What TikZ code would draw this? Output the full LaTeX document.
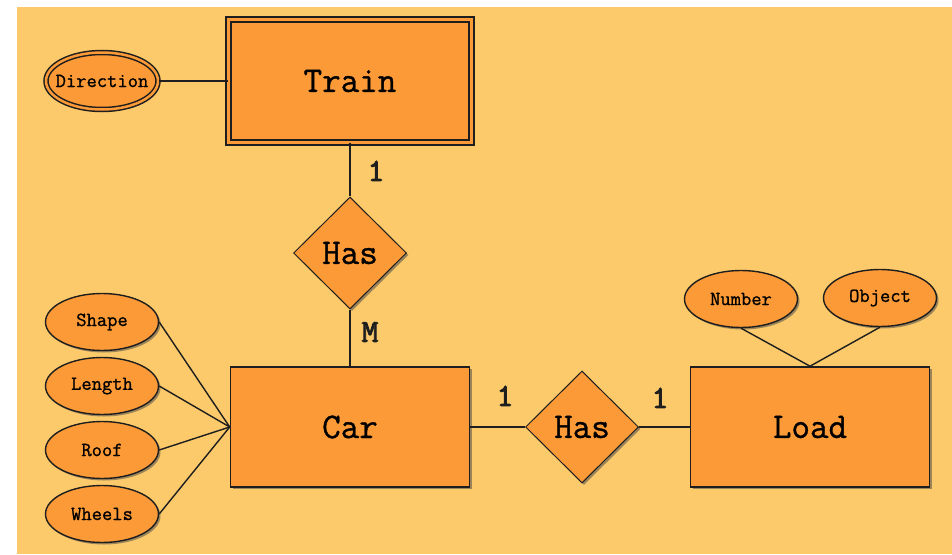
\documentclass[tikz,border=0pt]{standalone}
\usepackage{fontspec}
\newfontfamily\entityfont{Latin Modern Mono}[FakeBold=1]
\newfontfamily\cardfont{Latin Modern Mono}[FakeBold=3]
\usetikzlibrary{shapes.geometric, shadows}
\definecolor{paper}{HTML}{FCCA6B}
\definecolor{tangerine}{HTML}{FB9A36}
\definecolor{ink}{HTML}{1E1E1E}
\tikzset{
  shade/.style={drop shadow={shadow xshift=2pt, shadow yshift=-2pt, opacity=.55, fill=black!70}},
  entity/.style={rectangle, draw=ink, line width=1.6pt, fill=tangerine, shade,
    minimum width=239pt, minimum height=120pt, font=\entityfont\fontsize{36}{36}\selectfont},
  weakentity/.style={entity, line width=1.8pt, double=tangerine, double distance=3.5pt,
    minimum width=243pt, minimum height=123pt},
  relation/.style={diamond, draw=ink, line width=1pt, fill=tangerine, shade,
    minimum width=113pt, minimum height=112pt, inner sep=0pt, font=\entityfont\fontsize{36}{36}\selectfont},
  attrib/.style={ellipse, draw=ink, line width=1.4pt, fill=tangerine, shade,
    minimum width=113pt, minimum height=57pt, inner xsep=-12pt, inner ysep=0pt,
    font=\entityfont\fontsize{20}{20}\selectfont},
  multiattrib/.style={attrib, line width=1.5pt, double=tangerine, double distance=2.5pt,
    minimum width=112pt, minimum height=57pt},
  link/.style={draw=ink, line width=1.4pt},
  card/.style={font=\cardfont\fontsize{32}{32}\selectfont, text=ink},
}
\begin{document}
\begin{tikzpicture}[x=1pt, y=-1pt]
\useasboundingbox (0,0) rectangle (952,554);
\fill[paper] (17,7) rectangle (952,554);

\node[weakentity] (train) at (350,81) {Train};
\node[multiattrib] (direction) at (102,81) {Direction};
\node[relation] (has1) at (350,253) {Has};
\node[entity] (car) at (350,427) {Car};
\node[relation] (has2) at (582,427) {Has};
\node[entity] (load) at (810,427) {Load};

\node[attrib] (shape) at (102,322) {Shape};
\node[attrib] (length) at (102,386) {Length};
\node[attrib] (roof) at (102,450) {Roof};
\node[attrib] (wheels) at (102,514) {Wheels};
\node[attrib] (number) at (741,299) {Number};
\node[attrib] (object) at (880,298) {Object};

\draw[link] (direction) -- (train);
\draw[link] (train) -- (has1);
\draw[link] (has1) -- (car);
\draw[link] (car) -- (has2);
\draw[link] (has2) -- (load);
\foreach \a in {shape,length,roof,wheels}
  \draw[link] (\a.east) -- (car.west);
\foreach \a in {number,object}
  \draw[link] (\a.south) -- (load.north);

\node[card] (c1) at (376,171) {1};
\node[card] (cm) at (370,332) {M};
\node[card] (c2) at (505,396) {1};
\node[card] (c3) at (660,398) {1};
\end{tikzpicture}
\end{document}
